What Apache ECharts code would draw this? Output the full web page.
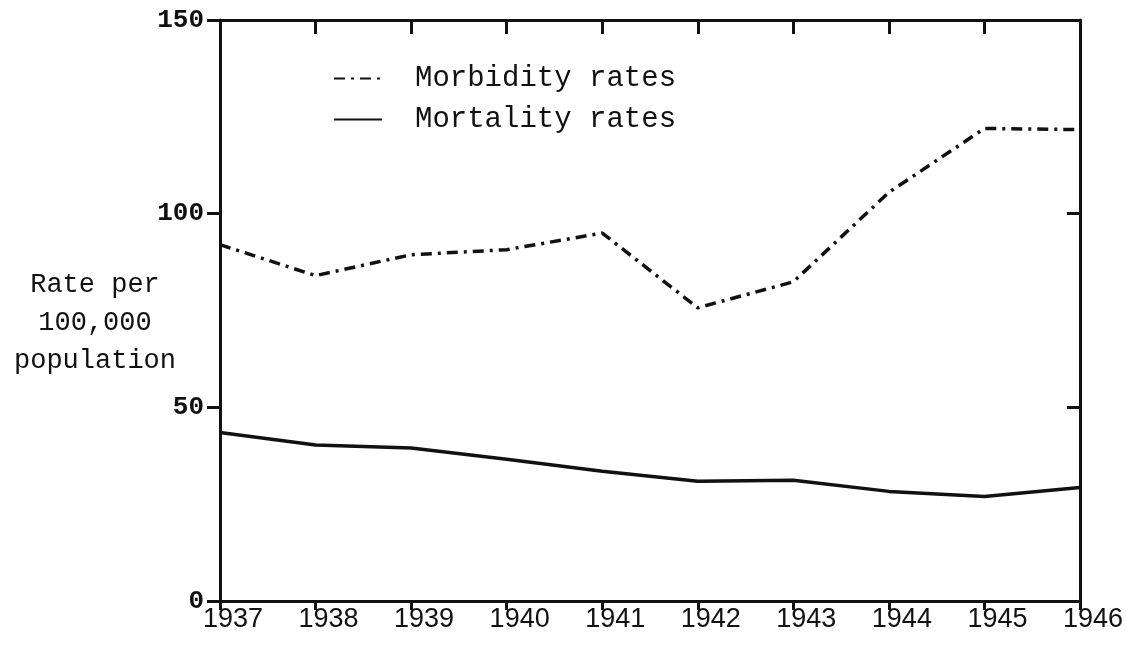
<!DOCTYPE html>
<html>
<head>
<meta charset="utf-8">
<script src="https://cdn.jsdelivr.net/npm/echarts@6/dist/echarts.min.js"></script>
<style>
  html, body { margin: 0; padding: 0; background: #fff; }
  #chart { width: 1126px; height: 648px; }
</style>
</head>
<body>
<div id="chart"></div>
<script>
// values
const years = [1937, 1938, 1939, 1940, 1941, 1942, 1943, 1944, 1945, 1946];
const morbidity = [92, 84, 89.4, 90.7, 95, 75.7, 82.4, 105.5, 122, 121.7];
const mortality = [43.5, 40.3, 39.5, 36.6, 33.5, 30.9, 31.2, 28.3, 27, 29.3];
const yTicks = [0, 50, 100, 150];

const ink = "#111";
const mono = "'Liberation Mono', 'DejaVu Sans Mono', monospace";

function pairs(vals) {
    return years.map(function (y, i) { return [y, vals[i]]; });
}

const chart = echarts.init(document.getElementById("chart"));

chart.setOption({
    backgroundColor: "#fff",
    animation: false,
    grid: { left: 220, right: 43, top: 20, bottom: 47 },
    legend: {
        orient: "vertical",
        left: 328,
        top: 59,
        itemWidth: 48,
        itemHeight: 14,
        itemGap: 12,
        itemStyle: { opacity: 0 },
        textStyle: { fontFamily: mono, fontSize: 29, color: ink, padding: [0, 0, 0, 28] },
        data: ["Morbidity rates", "Mortality rates"]
    },
    graphic: [{
        type: "text",
        x: 95,
        y: 266,
        style: {
            text: "Rate per\n100,000\npopulation",
            fontFamily: mono,
            fontSize: 27,
            lineHeight: 38,
            align: "center",
            fill: ink
        }
    }],
    xAxis: [{
        type: "value",
        min: years[0],
        max: years[years.length - 1],
        interval: 1,
        axisLine: { onZero: false, lineStyle: { color: ink, width: 3 } },
        axisTick: { inside: false, length: 9, lineStyle: { color: ink, width: 3 } },
        axisLabel: {
            color: ink,
            fontFamily: "'Liberation Sans', sans-serif",
            fontSize: 27,
            margin: 5,
            padding: [0, 0, 0, 26],
            formatter: function (v) { return String(v); }
        },
        splitLine: { show: false }
    }, {
        type: "value",
        position: "top",
        min: years[0],
        max: years[years.length - 1],
        interval: 1,
        axisLine: { onZero: false, lineStyle: { color: ink, width: 3 } },
        axisTick: { inside: true, length: 14, lineStyle: { color: ink, width: 3 } },
        axisLabel: { show: false },
        splitLine: { show: false }
    }],
    yAxis: [{
        type: "value",
        min: yTicks[0],
        max: yTicks[yTicks.length - 1],
        interval: 50,
        axisLine: { show: true, onZero: false, lineStyle: { color: ink, width: 3 } },
        axisTick: { show: true, inside: false, length: 13, lineStyle: { color: ink, width: 3 } },
        axisLabel: { color: ink, fontFamily: mono, fontSize: 26, fontWeight: "bold", margin: 16 },
        splitLine: { show: false }
    }, {
        type: "value",
        position: "right",
        min: yTicks[0],
        max: yTicks[yTicks.length - 1],
        interval: 50,
        axisLine: { show: true, onZero: false, lineStyle: { color: ink, width: 3 } },
        axisTick: { show: true, inside: true, length: 13, lineStyle: { color: ink, width: 3 } },
        axisLabel: { show: false },
        splitLine: { show: false }
    }],
    series: [{
        name: "Morbidity rates",
        type: "line",
        data: pairs(morbidity),
        symbol: "none",
        lineStyle: { color: ink, width: 3.5, type: [11, 6, 3, 6] },
        itemStyle: { color: ink }
    }, {
        name: "Mortality rates",
        type: "line",
        data: pairs(mortality),
        symbol: "none",
        lineStyle: { color: ink, width: 3.5, type: "solid" },
        itemStyle: { color: ink }
    }]
});
</script>
</body>
</html>
